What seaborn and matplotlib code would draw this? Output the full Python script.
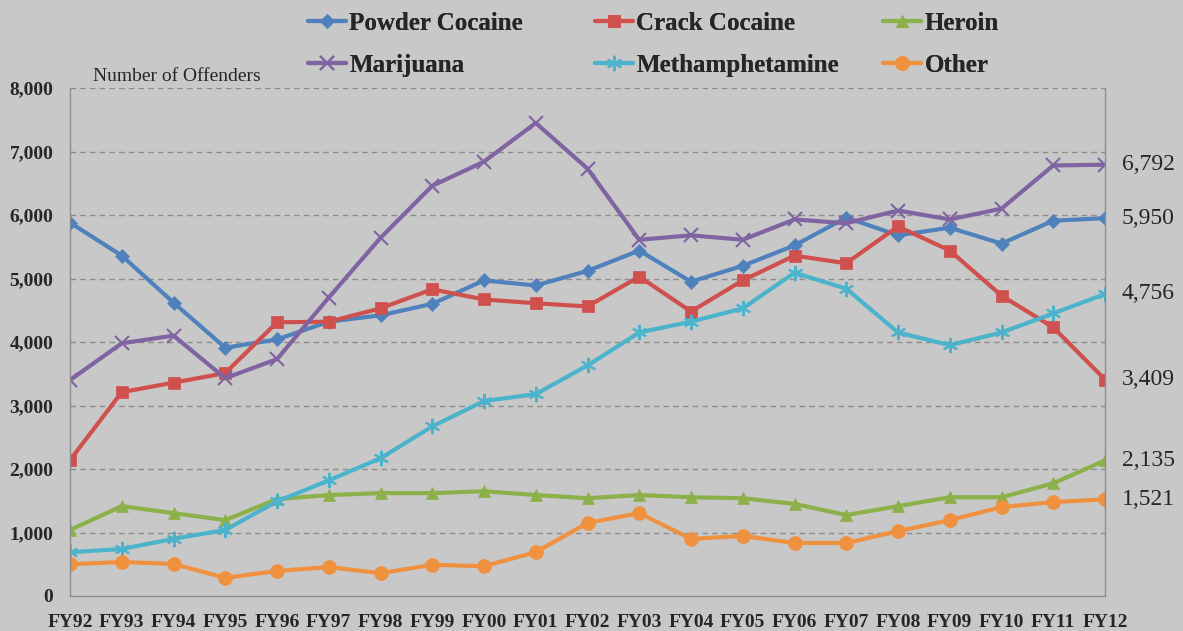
import numpy as np
import pandas as pd
import matplotlib
matplotlib.use("Agg")
import matplotlib.pyplot as plt
import seaborn as sns

# ---------------------------
# Data
# ---------------------------
years = ["FY92", "FY93", "FY94", "FY95", "FY96", "FY97", "FY98", "FY99", "FY00", "FY01",
         "FY02", "FY03", "FY04", "FY05", "FY06", "FY07", "FY08", "FY09", "FY10", "FY11", "FY12"]

powder = [5880, 5360, 4620, 3910, 4040, 4320, 4420, 4600, 4970, 4890,
          5120, 5440, 4950, 5200, 5520, 5960, 5680, 5800, 5550, 5910, 5950]
crack = [2140, 3210, 3360, 3510, 4310, 4320, 4530, 4830, 4670, 4610,
         4560, 5030, 4480, 4970, 5360, 5240, 5820, 5440, 4730, 4230, 3409]
heroin = [1040, 1415, 1305, 1195, 1525, 1590, 1620, 1620, 1650, 1590,
          1540, 1590, 1555, 1540, 1450, 1275, 1415, 1555, 1555, 1775, 2135]
marijuana = [3400, 3980, 4100, 3430, 3730, 4700, 5640, 6460, 6840, 7450,
             6730, 5610, 5680, 5610, 5930, 5870, 6070, 5930, 6100, 6780, 6792]
meth = [690, 740, 900, 1040, 1490, 1820, 2170, 2670, 3070, 3180,
        3630, 4150, 4320, 4530, 5090, 4840, 4150, 3950, 4150, 4450, 4756]
other = [500, 535, 505, 285, 395, 455, 360, 490, 470, 690,
         1150, 1305, 900, 945, 835, 835, 1020, 1195, 1400, 1480, 1521]

series = {
    "Powder Cocaine": powder,
    "Crack Cocaine": crack,
    "Heroin": heroin,
    "Marijuana": marijuana,
    "Methamphetamine": meth,
    "Other": other,
}
colors = {
    "Powder Cocaine": "#4F81BD",
    "Crack Cocaine": "#D0504D",
    "Heroin": "#8CB04A",
    "Marijuana": "#8064A2",
    "Methamphetamine": "#4BB4CC",
    "Other": "#F0913F",
}
markers = {
    "Powder Cocaine": ("D", 7),
    "Crack Cocaine": ("s", 8),
    "Heroin": ("^", 9),
    "Marijuana": ("x", 10),
    "Methamphetamine": ((6, 2, 0), 11),
    "Other": ("o", 10),
}

df = pd.DataFrame({"year": years, **series})
df["idx"] = np.arange(len(years))

# ---------------------------
# Plot
# ---------------------------
sns.set_style("white")
bg = "#c8c8c8"
plt.rcParams["font.family"] = ["Liberation Serif", "DejaVu Serif"]

W, H = 1183, 631
fig = plt.figure(figsize=(W / 100, H / 100), dpi=100, facecolor=bg)
ax = fig.add_axes([70 / W, 1 - 596 / H, (1105 - 70) / W, (596 - 88) / H])
ax.set_facecolor(bg)

handles = {}
for name in series:
    m, ms = markers[name]
    thin = m == "x" or isinstance(m, tuple)
    sns.lineplot(x="idx", y=name, data=df, ax=ax, color=colors[name], linewidth=3,
                 marker=m, markersize=ms, markeredgewidth=1.5 if thin else 0.5,
                 markeredgecolor=colors[name], label=name)
    handles[name] = ax.get_lines()[-1]
ax.get_legend().remove()

ax.set_xlim(0, len(years) - 1)
ax.set_ylim(0, 8000)
ax.set_xticks(df["idx"])
ax.set_xticklabels(years, fontsize=14, fontweight="bold")
ax.set_yticks(range(0, 8001, 1000))
ax.set_yticklabels([f"{v:,}" for v in range(0, 8001, 1000)], fontsize=14, fontweight="bold")
ax.set_xlabel("")
ax.set_ylabel("")

for v in range(1000, 8001, 1000):
    ax.axhline(v, color="#8c8c8c", linestyle=(0, (4, 3)), linewidth=1, zorder=0)

for side in ["left", "right", "bottom"]:
    ax.spines[side].set_color("#8c8c8c")
    ax.spines[side].set_linewidth(1)
ax.spines["top"].set_visible(False)
ax.tick_params(axis="x", direction="out", length=5, color="#8c8c8c", pad=8)
ax.tick_params(axis="y", direction="out", length=4, color="#8c8c8c", pad=8)

ax.text(23 / 1035, 1.005, "Number of Offenders", transform=ax.transAxes, fontsize=14,
        ha="left", va="bottom")

# end-of-line value labels
for name in ["Marijuana", "Powder Cocaine", "Methamphetamine", "Crack Cocaine", "Heroin", "Other"]:
    val = series[name][-1]
    ax.annotate(f"{val:,}", xy=(len(years) - 1, val), xytext=(12, 0),
                textcoords="offset points", fontsize=17, va="center", ha="left",
                annotation_clip=False)

# legend: three columns placed like the original
columns = [(["Powder Cocaine", "Marijuana"], 308),
           (["Crack Cocaine", "Methamphetamine"], 595),
           (["Heroin", "Other"], 883)]
for names, xpx in columns:
    leg = fig.legend([handles[n] for n in names], names, loc="upper left",
                     bbox_to_anchor=(xpx / W, 1 - 12 / H), frameon=False,
                     prop={"weight": "bold", "size": 18, "family": "Liberation Serif"},
                     handlelength=1.5, handletextpad=0.15, labelspacing=0.75,
                     borderpad=0, borderaxespad=0)
    fig.add_artist(leg)

fig.savefig("out.png", dpi=100, facecolor=bg)
